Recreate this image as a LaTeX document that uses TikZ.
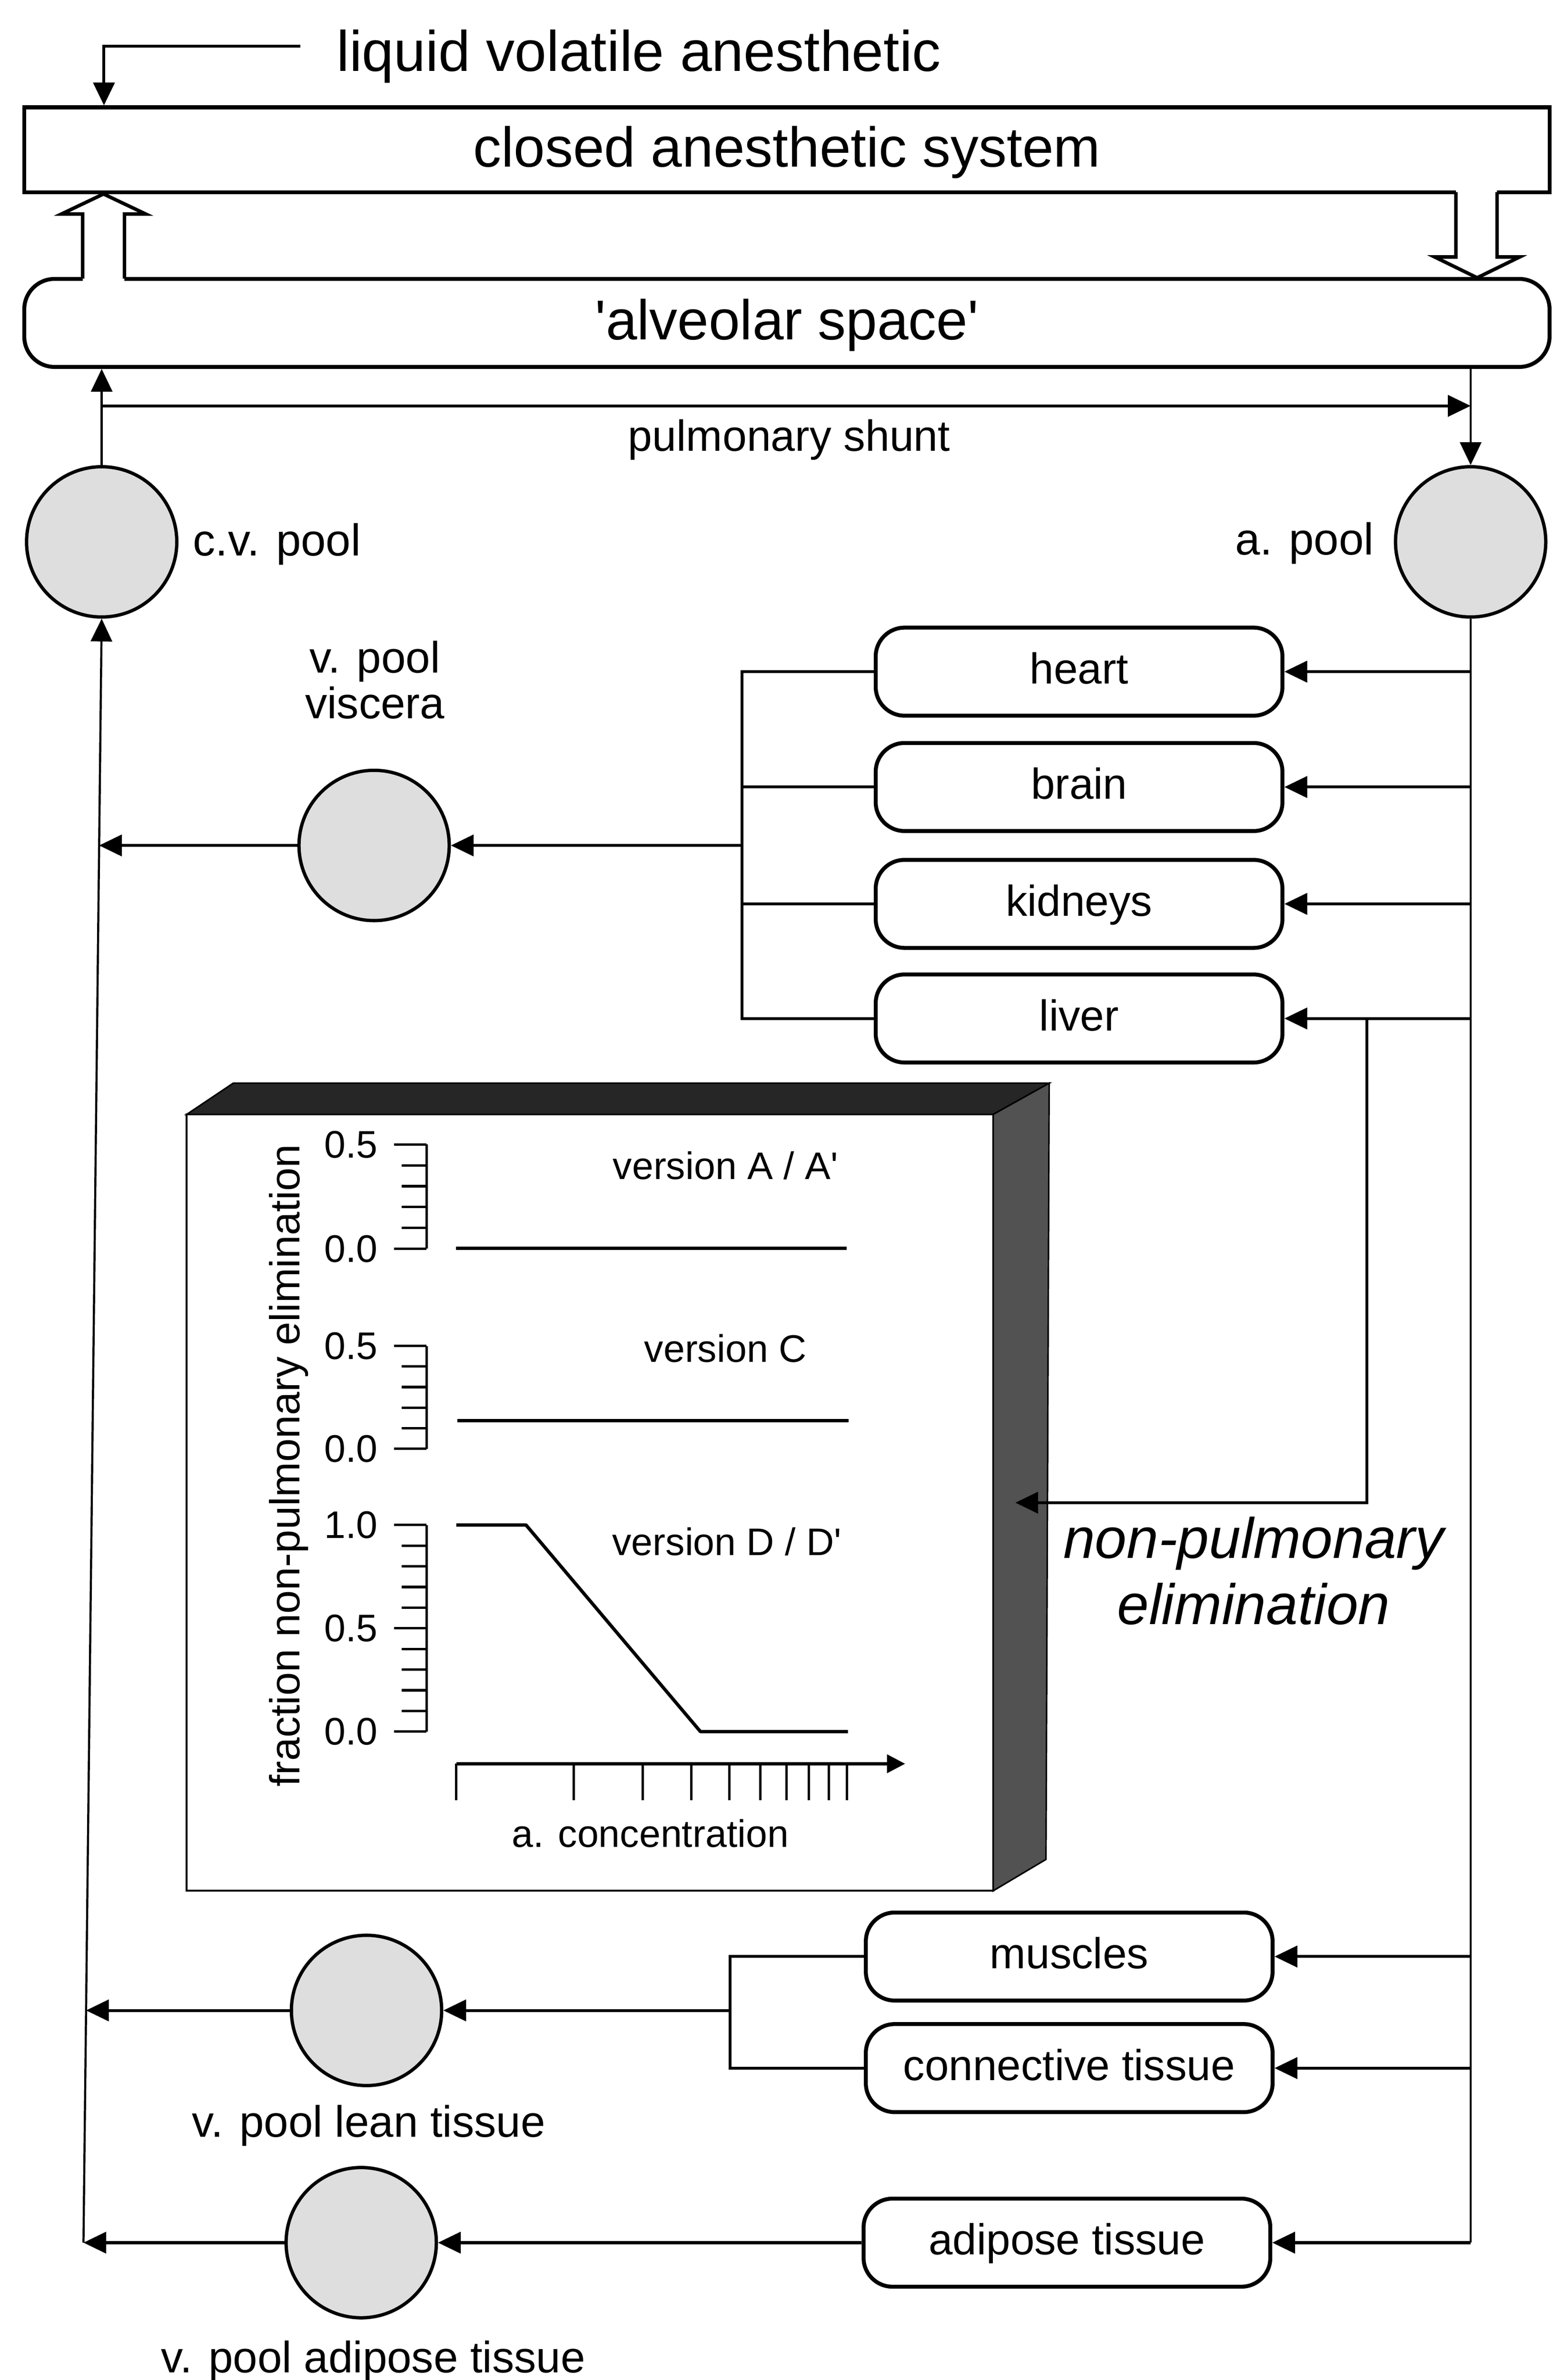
\documentclass[tikz,border=0pt]{standalone}
\usepackage{fontspec}
\setmainfont{Liberation Sans}
\usetikzlibrary{arrows.meta}
\begin{document}
\begin{tikzpicture}[x=1pt,y=-1pt,
 arr/.style={-{Triangle[length=15pt,width=14pt]}},
 conn/.style={line width=1.9pt},
 trunkline/.style={line width=1.4pt},
 organ/.style={draw,line width=2.6pt,rounded corners=19pt,minimum width=268pt,minimum height=58pt,inner sep=0pt,text height=20.5pt,text depth=4.5pt,font=\fontsize{28.5}{30}\selectfont},
 pool/.style={circle,draw,line width=2.2pt,fill=black!13,minimum size=99pt,inner sep=0pt},
 lbl/.style={inner sep=0pt,font=\fontsize{29}{30}\selectfont},
 cf/.style={inner sep=0pt,font=\fontsize{25.3}{28}\selectfont},
 hollow/.style={line width=2.3pt,line join=miter},
 axisline/.style={line width=1.6pt},
 dataline/.style={line width=2.2pt,line join=round},
 bigbox/.style={draw,line width=2.6pt,minimum width=1005pt,inner sep=0pt,text height=26.5pt,font=\fontsize{37}{40}\selectfont},
]
\useasboundingbox (0,0) rectangle (1023,1568);
\fill[white] (0,0) rectangle (1023,1568);

% ---------- top part ----------
\node[anchor=base,inner sep=0pt,font=\fontsize{37.7}{40}\selectfont] (liq) at (421,47) {liquid volatile anesthetic};
\node[bigbox,minimum height=56pt,text depth=3.9pt] (cas) at (518.5,98.7) {closed anesthetic system};
\node[bigbox,minimum height=58pt,rounded corners=20pt,text depth=4.5pt] (alv) at (518.5,212.75) {\textquotesingle alveolar space\textquotesingle};

\coordinate (lqs) at (198,30.4);
\coordinate (lqc) at (68.5,30.4);
\draw[conn,arr] (lqs) -- (lqc) -- (lqc |- cas.north);

% hollow arrows
\fill[white] (54.5,186) -- (54.5,141) -- (40.5,141) -- (68.2,127.8) -- (96,141) -- (82,141) -- (82,186) -- cycle;
\draw[hollow] (54.5,183.6) -- (54.5,141) -- (40.5,141) -- (68.2,127.8) -- (96,141) -- (82,141) -- (82,183.6);
\fill[white] (959.3,124) -- (959.3,169.3) -- (945.3,169.3) -- (973.3,183) -- (1001.3,169.3) -- (986.4,169.3) -- (986.4,124) -- cycle;
\draw[hollow] (959.3,126.6) -- (959.3,169.3) -- (945.3,169.3) -- (973.3,183) -- (1001.3,169.3) -- (986.4,169.3) -- (986.4,126.6);

% pools
\node[pool] (cvpool) at (67,357) {};
\node[pool] (apool) at (969,357) {};
\node[pool] (vpool) at (246.5,557) {};
\node[pool] (leanpool) at (241.5,1324.5) {};
\node[pool] (adpool) at (238,1477.5) {};

\node[lbl,anchor=base,font=\fontsize{29.5}{30}\selectfont] (cvlab) at (182.5,366) {c.v. pool};
\node[lbl,anchor=base,font=\fontsize{29.5}{30}\selectfont] (alab) at (859.5,365.6) {a. pool};
\node[lbl,align=center] (vlab) at (247,448) {v. pool\\viscera};
\node[lbl,anchor=base] (leanlab) at (243,1408) {v. pool lean tissue};
\node[lbl,anchor=base] (adlab) at (246,1563) {v. pool adipose tissue};
\node[anchor=base,inner sep=0pt,font=\fontsize{28.7}{30}\selectfont] (shlab) at (520,297) {pulmonary shunt};

% organs
\node[organ] (heart) at (711,442.5) {heart};
\node[organ] (brain) at (711,518.5) {brain};
\node[organ] (kidneys) at (711,595.5) {kidneys};
\node[organ] (liver) at (711,671) {liver};
\node[organ] (muscles) at (704.5,1289) {muscles};
\node[organ] (connective) at (704.5,1362.5) {connective tissue};
\node[organ] (adipose) at (703,1477.5) {adipose tissue};

% ---------- chart box ----------
\draw[line width=1.2pt,fill=white] (123,734.2) rectangle (654.4,1245.7);
\filldraw[line width=1pt,fill=black!85] (123,734.2) -- (153.7,713.6) -- (691.3,713.6) -- (654.4,734.2) -- cycle;
\filldraw[line width=1pt,fill=black!68] (654.4,734.2) -- (691.3,713.6) -- (689.2,1225) -- (654.4,1245.7) -- cycle;

\node[rotate=90,anchor=base,inner sep=0pt,font=\fontsize{27.7}{30}\selectfont] (ylab) at (197.5,965.5) {fraction non-pulmonary elimination};

% panel A
\draw[axisline] (281,754) -- (281,822.7);
\draw[axisline] (259.7,754) -- (281,754) (259.7,822.7) -- (281,822.7);
\foreach \k in {1,...,4} \draw[axisline] (264.7,{754+\k*13.74}) -- (281,{754+\k*13.74});
\node[cf,anchor=east] (a05) at (249,754) {0.5};
\node[cf,anchor=east] (a00) at (249,822.7) {0.0};
\draw[dataline] (300.5,822.5) -- (558,822.5);
\node[cf,anchor=base] (verA) at (478,777) {version A / A\textquotesingle};

% panel C
\draw[axisline] (281,886.7) -- (281,954.5);
\draw[axisline] (259.7,886.7) -- (281,886.7) (259.7,954.5) -- (281,954.5);
\foreach \k in {1,...,4} \draw[axisline] (264.7,{886.7+\k*13.56}) -- (281,{886.7+\k*13.56});
\node[cf,anchor=east] (c05) at (249,886.7) {0.5};
\node[cf,anchor=east] (c00) at (249,954.5) {0.0};
\draw[dataline] (301.5,935.8) -- (559,935.8);
\node[cf,anchor=base] (verC) at (478,897.2) {version C};

% panel D
\draw[axisline] (281,1004.7) -- (281,1140.8);
\draw[axisline] (259.7,1004.7) -- (281,1004.7) (259.7,1072.75) -- (281,1072.75) (259.7,1140.8) -- (281,1140.8);
\foreach \k in {1,2,3,4,6,7,8,9} \draw[axisline] (264.7,{1004.7+\k*13.61}) -- (281,{1004.7+\k*13.61});
\node[cf,anchor=east] (d10) at (249,1004.7) {1.0};
\node[cf,anchor=east] (d05) at (249,1072.75) {0.5};
\node[cf,anchor=east] (d00) at (249,1140.8) {0.0};
\draw[dataline] (300.6,1004.7) -- (346.6,1004.7) -- (461.5,1140.8) -- (558.7,1140.8);
\node[cf,anchor=base] (verD) at (479,1024.6) {version D / D\textquotesingle};

% x axis
\draw[line width=2pt,-{Triangle[length=12pt,width=12pt]}] (300.6,1162) -- (596.4,1162);
\foreach \xx in {300.6,378.1,423.4,455.6,480.5,500.9,518.1,533,546.2,558}
  \draw[line width=1.5pt] (\xx,1162) -- (\xx,1186);
\node[cf,anchor=base] (xlab) at (428.5,1217) {a. concentration};

\node[inner sep=0pt,align=center,font=\itshape\fontsize{37.6}{43.7}\selectfont] (npe) at (826,1035) {non-pulmonary\\elimination};

% ---------- connectors ----------
\coordinate (lb) at (55,1477.5);
\coordinate (lt1) at (65.3,557);
\coordinate (lt2) at (56.7,1324.5);
\coordinate (rb) at (969,1477.5);
\coordinate (sh) at (67,267.4);

\draw[trunkline,arr] (cvpool.north) -- (cvpool.north |- alv.south);
\draw[conn,arr] (sh) -- (sh -| apool.north);
\draw[trunkline,arr] (apool.north |- alv.south) -- (apool.north);
\draw[trunkline] (apool.south) -- (rb);
\draw[trunkline,arr] (lb) -- (cvpool.south);

\foreach \o in {heart,brain,kidneys,liver,muscles,connective}
  \draw[conn,arr] (\o.east -| rb) -- (\o.east);
\draw[conn,arr] (rb) -- (adipose.east);

\coordinate (vb) at (489,557);
\draw[conn] (heart.west) -- (heart.west -| vb) -- (liver.west -| vb) -- (liver.west);
\draw[conn] (brain.west) -- (brain.west -| vb);
\draw[conn] (kidneys.west) -- (kidneys.west -| vb);
\draw[conn,arr] (vb) -- (vpool.east);
\draw[conn,arr] (vpool.west) -- (lt1);

\coordinate (lnb) at (481,1324.5);
\draw[conn] (muscles.west) -- (muscles.west -| lnb) -- (connective.west -| lnb) -- (connective.west);
\draw[conn,arr] (lnb) -- (leanpool.east);
\draw[conn,arr] (leanpool.west) -- (lt2);
\draw[conn,arr] (adipose.west) -- (adpool.east);
\draw[conn,arr] (adpool.west) -- (lb);

\coordinate (lvc) at (900.6,990);
\coordinate (nptip) at (669,990);
\draw[conn,arr] (liver.east -| lvc) -- (lvc) -- (nptip);
\end{tikzpicture}
\end{document}
